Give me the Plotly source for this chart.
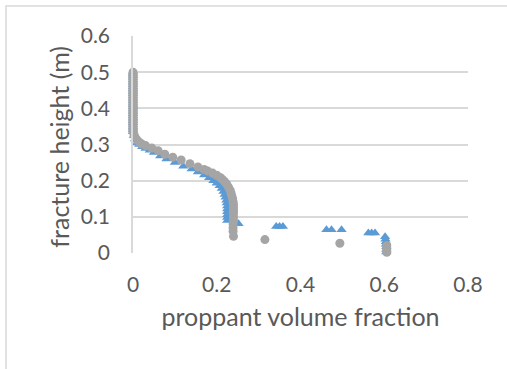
import plotly.graph_objects as go

# Series 1 (blue triangles)
blue_x = [0, 0, 0, 0, 0, 0, 0, 0, 0, 0, 0, 0, 0, 0, 0, 0, 0, 0, 0, 0, 0, 0, 0, 0, 0, 0, 0, 0, 0, 0, 0, 0, 0, 0,
          0.002, 0.005, 0.01, 0.015, 0.022, 0.03, 0.04, 0.05, 0.065, 0.08, 0.1, 0.12, 0.14, 0.155, 0.17,
          0.182, 0.192, 0.2, 0.207, 0.212, 0.216, 0.219, 0.221, 0.223, 0.224, 0.225, 0.225, 0.225, 0.225,
          0.225, 0.225, 0.252, 0.342, 0.350, 0.358, 0.462, 0.474, 0.498, 0.562, 0.570, 0.578,
          0.602, 0.603, 0.604, 0.604, 0.605, 0.605, 0.605]
blue_y = [0.5, 0.495, 0.49, 0.485, 0.48, 0.475, 0.47, 0.465, 0.46, 0.455, 0.45, 0.445, 0.44, 0.435, 0.43,
          0.425, 0.42, 0.415, 0.41, 0.405, 0.4, 0.395, 0.39, 0.385, 0.38, 0.375, 0.37, 0.365, 0.36, 0.355,
          0.35, 0.345, 0.34, 0.335,
          0.325, 0.315, 0.305, 0.3, 0.294, 0.289, 0.284, 0.278, 0.268, 0.26, 0.25, 0.24, 0.232, 0.224, 0.216,
          0.208, 0.2, 0.193, 0.186, 0.178, 0.17, 0.162, 0.154, 0.146, 0.138, 0.13, 0.122, 0.114, 0.106,
          0.098, 0.09, 0.081, 0.073, 0.073, 0.073, 0.064, 0.064, 0.064, 0.055, 0.055, 0.055,
          0.045, 0.038, 0.031, 0.024, 0.017, 0.01, 0.003]

# Series 2 (gray circles)
gray_x = [0, 0, 0, 0, 0, 0, 0, 0, 0, 0, 0, 0, 0, 0, 0, 0, 0, 0, 0, 0, 0, 0, 0, 0, 0, 0, 0, 0, 0, 0, 0, 0, 0, 0,
          0.003, 0.006, 0.01, 0.015, 0.02, 0.03, 0.045, 0.06, 0.076, 0.095, 0.115, 0.136, 0.155, 0.17, 0.178,
          0.19, 0.2, 0.208, 0.214, 0.219, 0.224, 0.228, 0.232, 0.234, 0.236, 0.238, 0.239, 0.24, 0.24, 0.24,
          0.24, 0.24, 0.24, 0.239, 0.239, 0.239, 0.24, 0.315, 0.494, 0.606, 0.606, 0.606, 0.606]
gray_y = [0.5, 0.495, 0.49, 0.485, 0.48, 0.475, 0.47, 0.465, 0.46, 0.455, 0.45, 0.445, 0.44, 0.435, 0.43,
          0.425, 0.42, 0.415, 0.41, 0.405, 0.4, 0.395, 0.39, 0.385, 0.38, 0.375, 0.37, 0.365, 0.36, 0.355,
          0.35, 0.345, 0.34, 0.335,
          0.325, 0.318, 0.312, 0.306, 0.302, 0.297, 0.29, 0.283, 0.273, 0.265, 0.257, 0.247, 0.238, 0.231, 0.227,
          0.221, 0.215, 0.209, 0.203, 0.197, 0.19, 0.182, 0.174, 0.166, 0.158, 0.15, 0.142, 0.134, 0.126, 0.118,
          0.11, 0.1, 0.09, 0.08, 0.07, 0.06, 0.046, 0.037, 0.027, 0.02, 0.014, 0.008, 0.002]

x_ticks = [0, 0.2, 0.4, 0.6, 0.8]
x_ticktext = ["0", "0.2", "0.4", "0.6", "0.8"]
y_ticks = [0, 0.1, 0.2, 0.3, 0.4, 0.5, 0.6]
y_ticktext = ["0", "0.1", "0.2", "0.3", "0.4", "0.5", "0.6"]
x_title = "proppant volume fraction"
y_title = "fracture height (m)"

FONT = "Lato"
TXT = "#595959"

fig = go.Figure()
fig.add_trace(go.Scatter(x=blue_x, y=blue_y, mode="markers", cliponaxis=False,
                         marker=dict(symbol="triangle-up", size=9, color="#5b9bd5"), showlegend=False))
fig.add_trace(go.Scatter(x=gray_x, y=gray_y, mode="markers", cliponaxis=False,
                         marker=dict(symbol="circle", size=9, color="#a5a5a5"), showlegend=False))

fig.update_layout(
    width=507, height=369,
    margin=dict(l=133, r=39, t=36, b=116),
    paper_bgcolor="white", plot_bgcolor="white",
    font=dict(family=FONT, color=TXT, size=21),
    xaxis=dict(range=[0, 0.8], tickvals=x_ticks, ticktext=x_ticktext, showgrid=False,
               zeroline=False, showline=False, ticks="", ticklabelstandoff=17,
               tickfont=dict(size=21, color=TXT),
               title=dict(text=x_title, font=dict(size=25, color=TXT), standoff=13)),
    yaxis=dict(range=[0, 0.6], tickvals=y_ticks, ticktext=y_ticktext, showgrid=True,
               gridcolor="#d9d9d9", gridwidth=1.5, zeroline=False, showline=True,
               linecolor="#d9d9d9", linewidth=1.5, ticks="", ticklabelstandoff=17,
               tickfont=dict(size=21, color=TXT)),
    annotations=[dict(text=y_title, xref="paper", yref="paper", x=(59 - 133) / 335, y=0.49,
                      xanchor="center", yanchor="middle", textangle=-90, showarrow=False,
                      font=dict(size=25, color=TXT))],
    shapes=[dict(type="rect", xref="paper", yref="paper",
                 x0=(6 - 133) / 335, x1=(515 - 133) / 335,
                 y0=(253 - 380) / 217, y1=(253 - 6) / 217,
                 line=dict(color="#d9d9d9", width=1.5), fillcolor="rgba(0,0,0,0)", layer="below")],
)

fig.write_html("out.html")
